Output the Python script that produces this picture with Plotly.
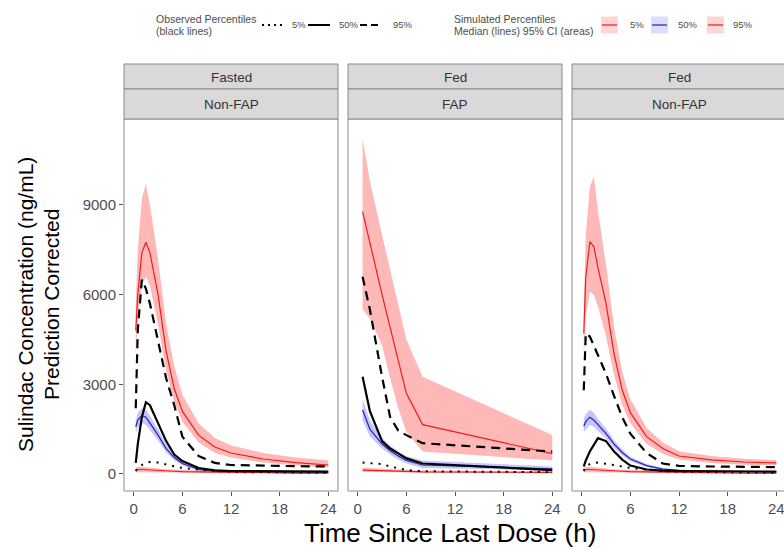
import plotly.graph_objects as go

W, H = 784, 549

# ---------------- data ----------------
time_a = [0.25, 0.5, 1, 1.5, 2, 3, 4, 5, 6, 8, 10, 12, 16, 20, 24]
time_b = [0.6, 1.5, 3, 4, 5, 6, 8, 24]
strip_top = ["Fasted", "Fed", "Fed"]
strip_bottom = ["Non-FAP", "FAP", "Non-FAP"]
x_ticks = [0, 6, 12, 18, 24]
y_ticks = [0, 3000, 6000, 9000]

# Panel 1: Fasted / Non-FAP
p1_obs5 = [100, 200, 300, 380, 400, 380, 320, 250, 200, 150, 100, 80, 60, 50, 40]
p1_obs50 = [370, 1000, 1900, 2400, 2300, 1700, 1100, 650, 430, 200, 120, 100, 90, 80, 80]
p1_obs95 = [2200, 4800, 6500, 6200, 5700, 4400, 3200, 2300, 1250, 600, 370, 300, 270, 260, 250]
p1_sim5_med = [120, 150, 150, 140, 130, 110, 100, 90, 80, 70, 60, 50, 40, 30, 30]
p1_sim5_lo = [60, 80, 80, 70, 65, 55, 50, 45, 40, 35, 30, 25, 20, 15, 15]
p1_sim5_hi = [200, 240, 240, 220, 210, 180, 160, 150, 130, 115, 100, 85, 70, 55, 50]
p1_sim50_med = [1580, 1800, 1950, 1900, 1700, 1300, 850, 550, 350, 150, 100, 80, 70, 60, 60]
p1_sim50_lo = [1350, 1550, 1700, 1650, 1480, 1120, 720, 460, 280, 110, 70, 55, 50, 45, 45]
p1_sim50_hi = [1800, 2050, 2200, 2150, 1950, 1500, 1000, 660, 430, 200, 140, 110, 95, 85, 80]
p1_sim95_med = [4800, 6000, 7400, 7750, 7400, 6000, 4100, 2850, 2100, 1300, 900, 700, 500, 380, 300]
p1_sim95_lo = [4000, 5000, 6300, 6600, 6300, 5000, 3450, 2400, 1750, 1050, 700, 550, 380, 280, 220]
p1_sim95_hi = [5600, 7500, 9200, 9700, 9000, 7200, 5000, 3600, 2650, 1700, 1200, 950, 700, 550, 450]

# Panel 2: Fed / FAP
p2_obs5 = [380, 370, 330, 250, 180, 130, 90, 60]
p2_obs50 = [3250, 2100, 1100, 850, 690, 520, 350, 130]
p2_obs95 = [6600, 5500, 3250, 1900, 1450, 1300, 1030, 750]
p2_sim5_med = [130, 120, 110, 100, 90, 80, 70, 50]
p2_sim5_lo = [70, 65, 60, 55, 50, 45, 40, 25]
p2_sim5_hi = [210, 200, 180, 165, 150, 135, 120, 90]
p2_sim50_med = [2140, 1500, 1000, 780, 600, 450, 300, 170]
p2_sim50_lo = [1800, 1250, 850, 650, 480, 350, 200, 120]
p2_sim50_hi = [2500, 1800, 1200, 950, 750, 600, 450, 250]
p2_sim95_med = [8780, 7700, 6000, 4900, 3800, 2700, 1650, 680]
p2_sim95_lo = [5500, 5200, 4300, 3200, 2200, 1400, 750, 450]
p2_sim95_hi = [11200, 9800, 8000, 6800, 5600, 4500, 3250, 1300]

# Panel 3: Fed / Non-FAP
p3_obs5 = [100, 250, 330, 370, 380, 350, 300, 250, 200, 150, 100, 80, 60, 50, 40]
p3_obs50 = [250, 450, 750, 1000, 1200, 1100, 750, 480, 280, 150, 110, 100, 90, 80, 80]
p3_obs95 = [2800, 4700, 4600, 4300, 4000, 3350, 2600, 1900, 1350, 700, 350, 270, 250, 240, 230]
p3_sim5_med = [120, 150, 150, 140, 130, 110, 100, 90, 80, 70, 60, 50, 40, 30, 30]
p3_sim5_lo = [60, 80, 80, 70, 65, 55, 50, 45, 40, 35, 30, 25, 20, 15, 15]
p3_sim5_hi = [200, 240, 240, 220, 210, 180, 160, 150, 130, 115, 100, 85, 70, 55, 50]
p3_sim50_med = [1600, 1750, 1900, 1800, 1650, 1350, 1000, 720, 500, 280, 160, 120, 90, 80, 70]
p3_sim50_lo = [1400, 1500, 1650, 1580, 1450, 1180, 870, 620, 420, 230, 130, 95, 70, 60, 55]
p3_sim50_hi = [1850, 2000, 2150, 2050, 1850, 1520, 1130, 820, 580, 330, 200, 150, 115, 100, 90]
p3_sim95_med = [4700, 6600, 7770, 7600, 6900, 5700, 4000, 2800, 2050, 1250, 850, 600, 470, 400, 370]
p3_sim95_lo = [3900, 5300, 6100, 6000, 5600, 4600, 3300, 2300, 1700, 1000, 680, 480, 370, 310, 290]
p3_sim95_hi = [5500, 8000, 9600, 9950, 8800, 7000, 4900, 3400, 2500, 1550, 1050, 760, 600, 510, 470]

panel_data = [
    dict(t=time_a, obs5=p1_obs5, obs50=p1_obs50, obs95=p1_obs95,
         s5=(p1_sim5_lo, p1_sim5_med, p1_sim5_hi), s50=(p1_sim50_lo, p1_sim50_med, p1_sim50_hi),
         s95=(p1_sim95_lo, p1_sim95_med, p1_sim95_hi)),
    dict(t=time_b, obs5=p2_obs5, obs50=p2_obs50, obs95=p2_obs95,
         s5=(p2_sim5_lo, p2_sim5_med, p2_sim5_hi), s50=(p2_sim50_lo, p2_sim50_med, p2_sim50_hi),
         s95=(p2_sim95_lo, p2_sim95_med, p2_sim95_hi)),
    dict(t=time_a, obs5=p3_obs5, obs50=p3_obs50, obs95=p3_obs95,
         s5=(p3_sim5_lo, p3_sim5_med, p3_sim5_hi), s50=(p3_sim50_lo, p3_sim50_med, p3_sim50_hi),
         s95=(p3_sim95_lo, p3_sim95_med, p3_sim95_hi)),
]

# ---------------- layout geometry (pixels) ----------------
FONT = "Liberation Sans, Arial, sans-serif"
def px(x): return x / W
def py(y): return 1 - y / H

panel_left = [124, 348, 572]
panel_right = [338, 562, 784]
panel_top, panel_bot = 119, 491
strip1_top, strip_mid = 64, 89
x_ranges = [[-1.2, 25.2], [-1.2, 25.2], [-1.2, 24.95]]
y_range = [-570, 11877]

RED = "#F01C1C"
RED_FILL = "rgba(255,40,40,0.33)"
BLUE = "#2222B0"
BLUE_FILL = "rgba(50,50,255,0.28)"
BORDER = "#8a8a8a"

fig = go.Figure()

for i, d in enumerate(panel_data):
    xa = "x" if i == 0 else f"x{i+1}"
    ya = "y" if i == 0 else f"y{i+1}"
    t = d["t"]
    for key, fill in [("s95", RED_FILL), ("s50", BLUE_FILL), ("s5", RED_FILL)]:
        lo, med, hi = d[key]
        fig.add_trace(go.Scatter(x=list(t) + list(t)[::-1], y=list(hi) + list(lo)[::-1],
                                 fill="toself", fillcolor=fill, line=dict(width=0),
                                 mode="lines", xaxis=xa, yaxis=ya, showlegend=False,
                                 hoverinfo="skip"))
    for key, col in [("s95", RED), ("s50", BLUE), ("s5", RED)]:
        lo, med, hi = d[key]
        fig.add_trace(go.Scatter(x=t, y=med, mode="lines", line=dict(color=col, width=1.2),
                                 xaxis=xa, yaxis=ya, showlegend=False))
    fig.add_trace(go.Scatter(x=t, y=d["obs5"], mode="lines",
                             line=dict(color="black", width=2, dash="2px,6px"),
                             xaxis=xa, yaxis=ya, showlegend=False))
    fig.add_trace(go.Scatter(x=t, y=d["obs50"], mode="lines",
                             line=dict(color="black", width=2.2),
                             xaxis=xa, yaxis=ya, showlegend=False))
    fig.add_trace(go.Scatter(x=t, y=d["obs95"], mode="lines",
                             line=dict(color="black", width=2.2, dash="9px,6px"),
                             xaxis=xa, yaxis=ya, showlegend=False))

layout = dict(width=W, height=H, margin=dict(l=0, r=0, t=0, b=0),
              paper_bgcolor="white", plot_bgcolor="white", showlegend=False,
              font=dict(family=FONT))
for i in range(3):
    sx = "" if i == 0 else str(i + 1)
    layout["xaxis" + sx] = dict(domain=[px(panel_left[i]), px(panel_right[i])],
                                range=x_ranges[i], anchor="y" + sx,
                                tickvals=x_ticks, ticks="outside", ticklen=4,
                                tickcolor="#555", tickwidth=1, showgrid=False, zeroline=False,
                                showline=False, ticklabeloverflow="allow",
                                tickfont=dict(size=15, color="#4d4d4d", family=FONT))
    layout["yaxis" + sx] = dict(domain=[py(panel_bot), py(panel_top)], range=y_range,
                                anchor="x" + sx, showgrid=False, zeroline=False, showline=False,
                                tickvals=y_ticks if i == 0 else [],
                                ticks="outside" if i == 0 else "", ticklen=4,
                                tickcolor="#555", tickwidth=1,
                                showticklabels=(i == 0),
                                tickfont=dict(size=15, color="#4d4d4d", family=FONT))

shapes = []
annotations = []
for i in range(3):
    L, R = panel_left[i], panel_right[i]
    if i < 2:
        shapes.append(dict(type="rect", xref="paper", yref="paper", x0=px(L), x1=px(R),
                           y0=py(panel_bot), y1=py(panel_top), line=dict(color=BORDER, width=1)))
        sR = R
    else:
        shapes.append(dict(type="path", xref="paper", yref="paper",
                           path=f"M {px(R+4)} {py(panel_top)} L {px(L)} {py(panel_top)} L {px(L)} {py(panel_bot)} L {px(R+4)} {py(panel_bot)}",
                           line=dict(color=BORDER, width=1)))
        sR = R + 4
    for (y0, y1, label) in [(strip1_top, strip_mid, strip_top[i]), (strip_mid, panel_top, strip_bottom[i])]:
        shapes.append(dict(type="rect", xref="paper", yref="paper", x0=px(L), x1=px(sR),
                           y0=py(y1), y1=py(y0), fillcolor="#D9D9D9",
                           line=dict(color=BORDER, width=1), layer="above"))
        annotations.append(dict(text=label, xref="paper", yref="paper",
                                x=px((L + (R if i < 2 else 786)) / 2), y=py((y0 + y1) / 2 + 0.5),
                                showarrow=False, xanchor="center", yanchor="middle",
                                font=dict(size=13.5, color="#333333", family=FONT)))

# axis titles
annotations.append(dict(text="Time Since Last Dose (h)", xref="paper", yref="paper",
                        x=px(450), y=py(533), showarrow=False, xanchor="center", yanchor="middle",
                        font=dict(size=26, color="black", family=FONT)))
annotations.append(dict(text="Sulindac Concentration (ng/mL)", xref="paper", yref="paper",
                        x=px(25), y=py(305), showarrow=False, textangle=-90,
                        xanchor="center", yanchor="middle",
                        font=dict(size=21, color="black", family=FONT)))
annotations.append(dict(text="Prediction Corrected", xref="paper", yref="paper",
                        x=px(51), y=py(305), showarrow=False, textangle=-90,
                        xanchor="center", yanchor="middle",
                        font=dict(size=21, color="black", family=FONT)))

# legend (drawn manually)
def legtext(txt, x, y, size=9.5):
    annotations.append(dict(text=txt, xref="paper", yref="paper", x=px(x), y=py(y),
                            showarrow=False, xanchor="left", yanchor="middle",
                            font=dict(size=size, color="#4d4d4d", family=FONT)))

legtext("Observed Percentiles", 154, 19, 10.5)
legtext("(black lines)", 154, 31, 10.5)
key_y = 25
for (x0, x1, dash, lab, lx) in [(262, 282, "2px,4px", "5%", 290),
                                (308, 330, "solid", "50%", 337),
                                (360, 380, "7px,4px", "95%", 391)]:
    shapes.append(dict(type="line", xref="paper", yref="paper", x0=px(x0), x1=px(x1),
                       y0=py(key_y), y1=py(key_y), line=dict(color="black", width=2, dash=dash)))
    legtext(lab, lx, key_y)

legtext("Simulated Percentiles", 452, 19, 10.5)
legtext("Median (lines) 95% CI (areas)", 452, 31, 10.5)
for (x0, fill, col, lab, lx) in [(601, RED_FILL, RED, "5%", 628),
                                 (651, BLUE_FILL, BLUE, "50%", 676),
                                 (707, RED_FILL, RED, "95%", 731)]:
    shapes.append(dict(type="rect", xref="paper", yref="paper", x0=px(x0), x1=px(x0 + 17),
                       y0=py(key_y + 8.5), y1=py(key_y - 8.5), fillcolor=fill,
                       line=dict(width=0), opacity=0.6))
    shapes.append(dict(type="line", xref="paper", yref="paper", x0=px(x0 + 1), x1=px(x0 + 16),
                       y0=py(key_y), y1=py(key_y), line=dict(color=col, width=1.2)))
    legtext(lab, lx, key_y)

layout["shapes"] = shapes
layout["annotations"] = annotations
fig.update_layout(**layout)
fig.write_html("out.html")
